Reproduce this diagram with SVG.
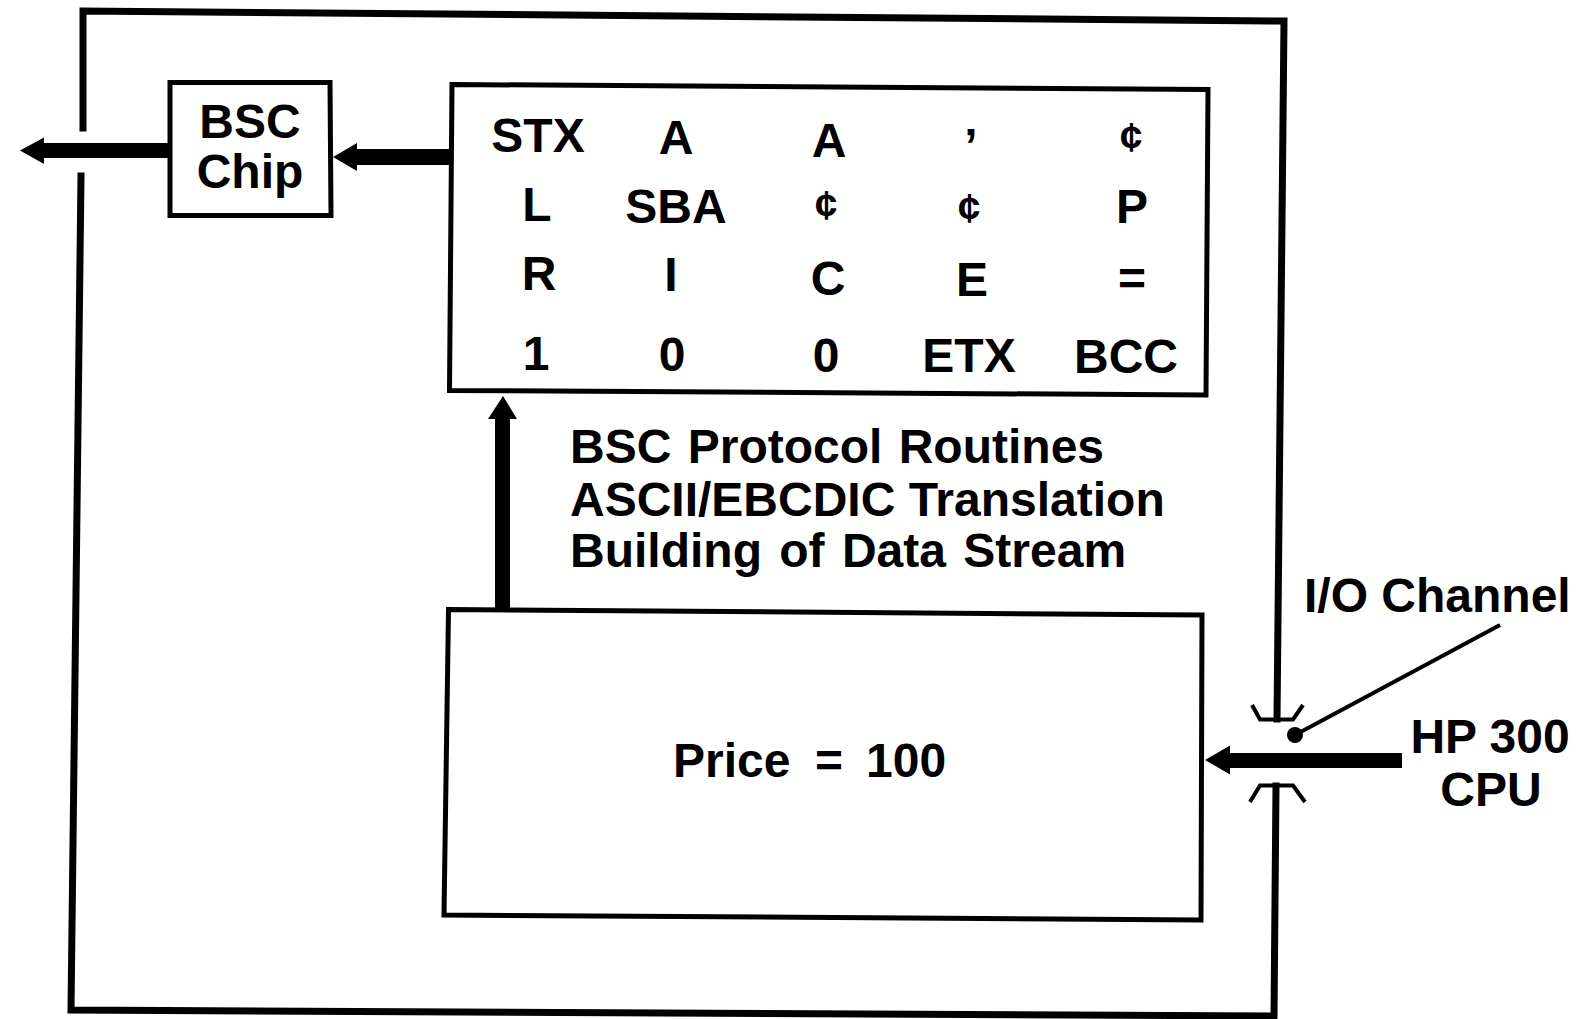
<svg xmlns="http://www.w3.org/2000/svg" width="1587" height="1019" viewBox="0 0 1587 1019">
<style>
  .t { font-family: "Liberation Sans", Arial, Helvetica, sans-serif; font-weight: bold; font-size: 48px; fill: #000; }
  .m { text-anchor: middle; }
  .cent { font-size: 40px; }
  .box { fill: none; stroke: #000; stroke-width: 5; stroke-linejoin: miter; }
  .frame { fill: none; stroke: #000; stroke-width: 7; stroke-linejoin: miter; stroke-linecap: square; }
  .thin { fill: none; stroke: #000; stroke-width: 4; stroke-linejoin: miter; }
  .arrow { fill: #000; stroke: none; }
</style>
<rect width="1587" height="1019" fill="#fff"/>

<g id="system-frame">
  <path class="frame" d="M83,128 L83,11 L1284,21 L1277,719"/>
  <path class="frame" d="M81,176 L71,1010 L1274,1016 L1276,786"/>
</g>

<g id="io-channel">
  <path class="thin" d="M1252,705 L1260,719.5 L1293,719.5 L1303,705"/>
  <path class="thin" d="M1250,802 L1260,785.5 L1293,785.5 L1305,802"/>
  <line x1="1295" y1="735" x2="1500" y2="625" stroke="#000" stroke-width="4"/>
  <circle cx="1295" cy="735" r="8" fill="#000"/>
  <text class="t" x="1304" y="612">I/O Channel</text>
</g>

<g id="hp300-cpu">
  <text class="t m" x="1490" y="753">HP 300</text>
  <text class="t m" x="1491" y="806">CPU</text>
</g>

<g id="bsc-chip">
  <path class="box" d="M170,82.5 L330,82.5 L331,215.5 L170,215.5 Z"/>
  <text class="t m" x="250" y="138">BSC</text>
  <text class="t m" x="250" y="188">Chip</text>
</g>

<g id="data-stream">
  <path class="box" d="M452,84.5 L1208,89.5 L1206,395 L449.5,390.5 Z"/>
  <text class="t m" x="538" y="152">STX</text>
  <text class="t m" x="676" y="154">A</text>
  <text class="t m" x="829" y="157">A</text>
  <text class="t m" x="971" y="162" font-size="58">’</text>
  <text class="t m cent" x="1131" y="151">¢</text>

  <text class="t m" x="537" y="221">L</text>
  <text class="t m" x="676" y="223">SBA</text>
  <text class="t m cent" x="826" y="219">¢</text>
  <text class="t m cent" x="969" y="222">¢</text>
  <text class="t m" x="1132" y="223">P</text>

  <text class="t m" x="539" y="290">R</text>
  <text class="t m" x="671" y="291">I</text>
  <text class="t m" x="828" y="295">C</text>
  <text class="t m" x="972" y="296">E</text>
  <text class="t m" x="1132" y="295">=</text>

  <text class="t m" x="536" y="370">1</text>
  <text class="t m" x="672" y="371">0</text>
  <text class="t m" x="826" y="372">0</text>
  <text class="t m" x="969" y="372">ETX</text>
  <text class="t m" x="1126" y="373">BCC</text>
</g>

<g id="processing-label">
  <text class="t" x="570" y="463" word-spacing="3">BSC Protocol Routines</text>
  <text class="t" x="570" y="516">ASCII/EBCDIC Translation</text>
  <text class="t" x="570" y="567" word-spacing="4">Building of Data Stream</text>
</g>

<g id="price-buffer">
  <path class="box" d="M448.5,609.5 L1202,615 L1201,920 L444,915 Z"/>
  <text class="t" y="777"><tspan x="673">Price</tspan><tspan x="815">=</tspan><tspan x="866">100</tspan></text>
</g>

<g id="connectors">
  <polygon class="arrow" points="20,150.5 44,137.5 44,143 170,143 170,158 44,158 44,164"/>
  <polygon class="arrow" points="333,157 357,143 357,149 452,149 452,165 357,165 357,171"/>
  <polygon class="arrow" points="503,396 517,419 510,419 510,609 495,609 495,419 488,419"/>
  <polygon class="arrow" points="1205,760 1230,745.5 1230,753 1402,753 1402,768 1230,768 1230,774.5"/>
</g>
</svg>
